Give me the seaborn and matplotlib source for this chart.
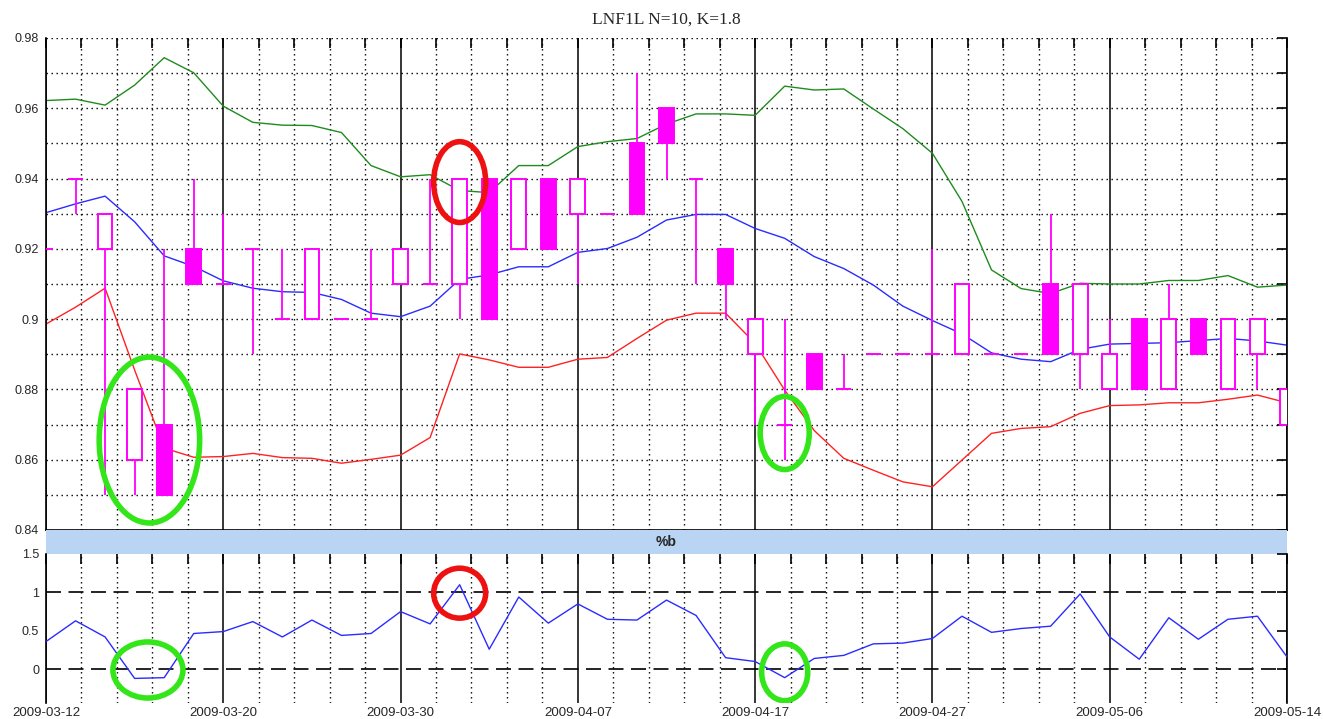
import numpy as np
import pandas as pd
import matplotlib
matplotlib.use("Agg")
import matplotlib.pyplot as plt
import seaborn as sns
from matplotlib.patches import Ellipse
from matplotlib.ticker import MultipleLocator, FixedLocator, FuncFormatter

# ---------------- data ----------------
dates = ["2009-03-12", "2009-03-13", "2009-03-16", "2009-03-17", "2009-03-18", "2009-03-19",
         "2009-03-20", "2009-03-23", "2009-03-24", "2009-03-25", "2009-03-26", "2009-03-27",
         "2009-03-30", "2009-03-31", "2009-04-01", "2009-04-02", "2009-04-03", "2009-04-06",
         "2009-04-07", "2009-04-08", "2009-04-09", "2009-04-14", "2009-04-15", "2009-04-16",
         "2009-04-17", "2009-04-20", "2009-04-21", "2009-04-22", "2009-04-23", "2009-04-24",
         "2009-04-27", "2009-04-28", "2009-04-29", "2009-04-30", "2009-05-04", "2009-05-05",
         "2009-05-06", "2009-05-07", "2009-05-08", "2009-05-11", "2009-05-12", "2009-05-13",
         "2009-05-14"]

opens = [0.92, 0.94, 0.92, 0.86, 0.87, 0.92, 0.91, 0.92, 0.90, 0.90, 0.90, 0.90, 0.91, 0.91,
         0.91, 0.94, 0.92, 0.94, 0.93, 0.93, 0.95, 0.96, 0.94, 0.92, 0.89, 0.87, 0.89, 0.88,
         0.89, 0.89, 0.89, 0.89, 0.89, 0.89, 0.91, 0.89, 0.88, 0.90, 0.88, 0.90, 0.88, 0.89,
         0.87]
highs = [0.92, 0.94, 0.93, 0.88, 0.92, 0.94, 0.93, 0.92, 0.92, 0.92, 0.90, 0.92, 0.92, 0.94,
         0.94, 0.94, 0.94, 0.94, 0.94, 0.93, 0.97, 0.96, 0.94, 0.92, 0.90, 0.90, 0.89, 0.89,
         0.89, 0.89, 0.92, 0.91, 0.89, 0.89, 0.93, 0.91, 0.90, 0.90, 0.91, 0.90, 0.90, 0.90,
         0.88]
lows = [0.92, 0.93, 0.85, 0.85, 0.85, 0.91, 0.91, 0.89, 0.90, 0.90, 0.90, 0.90, 0.91, 0.91,
        0.90, 0.90, 0.92, 0.92, 0.91, 0.93, 0.93, 0.94, 0.91, 0.90, 0.87, 0.86, 0.88, 0.88,
        0.89, 0.89, 0.89, 0.89, 0.89, 0.89, 0.89, 0.88, 0.88, 0.88, 0.88, 0.89, 0.88, 0.88,
        0.87]
closes = [0.92, 0.94, 0.93, 0.88, 0.85, 0.91, 0.91, 0.92, 0.90, 0.92, 0.90, 0.90, 0.92, 0.91,
          0.94, 0.90, 0.94, 0.92, 0.94, 0.93, 0.93, 0.95, 0.94, 0.91, 0.90, 0.87, 0.88, 0.88,
          0.89, 0.89, 0.89, 0.91, 0.89, 0.89, 0.89, 0.91, 0.89, 0.88, 0.90, 0.89, 0.90, 0.90,
          0.88]

upper = [0.9622, 0.9626, 0.9609, 0.9666, 0.9744, 0.9701, 0.9606, 0.9560, 0.9552, 0.9551,
         0.9531, 0.9437, 0.9405, 0.9411, 0.9366, 0.9360, 0.9437, 0.9437, 0.9491, 0.9505,
         0.9514, 0.9555, 0.9584, 0.9584, 0.9580, 0.9663, 0.9652, 0.9655, 0.9598, 0.9542,
         0.9472, 0.9335, 0.9140, 0.9087, 0.9073, 0.9102, 0.9100, 0.9100, 0.9110, 0.9110,
         0.9124, 0.9091, 0.9097]
middle = [0.9303, 0.9328, 0.9350, 0.9277, 0.9180, 0.9150, 0.9109, 0.9088, 0.9078, 0.9076,
          0.9056, 0.9017, 0.9007, 0.9037, 0.9113, 0.9126, 0.9149, 0.9149, 0.9190, 0.9201,
          0.9233, 0.9282, 0.9298, 0.9298, 0.9258, 0.9230, 0.9178, 0.9144, 0.9097, 0.9037,
          0.8996, 0.8958, 0.8904, 0.8886, 0.8879, 0.8914, 0.8929, 0.8931, 0.8933, 0.8939,
          0.8945, 0.8938, 0.8926]
lower = [0.8986, 0.9034, 0.9088, 0.8855, 0.8633, 0.8607, 0.8609, 0.8618, 0.8606, 0.8604,
         0.8590, 0.8601, 0.8613, 0.8663, 0.8901, 0.8884, 0.8863, 0.8863, 0.8886, 0.8891,
         0.8945, 0.8997, 0.9017, 0.9017, 0.8931, 0.8798, 0.8683, 0.8604, 0.8570, 0.8537,
         0.8523, 0.8599, 0.8675, 0.8689, 0.8694, 0.8732, 0.8754, 0.8756, 0.8762, 0.8762,
         0.8772, 0.8784, 0.8762]

pct_b = [0.36, 0.63, 0.42, -0.12, -0.11, 0.465, 0.49, 0.62, 0.42, 0.64, 0.44, 0.465, 0.75,
         0.59, 1.10, 0.26, 0.94, 0.60, 0.85, 0.65, 0.64, 0.90, 0.70, 0.15, 0.10, -0.11, 0.14,
         0.18, 0.33, 0.34, 0.40, 0.69, 0.48, 0.53, 0.56, 0.98, 0.42, 0.13, 0.67, 0.39, 0.65,
         0.69, 0.16]

tick_labels = ["2009-03-12", "2009-03-20", "2009-03-30", "2009-04-07",
               "2009-04-17", "2009-04-27", "2009-05-06", "2009-05-14"]

# annotation ellipses: (day, value, width_days, height)
main_marks = [(3.5, 0.8656, 3.4, 0.0472, "#33e619"),
              (14.0, 0.9390, 1.76, 0.0230, "#ee1111"),
              (25.0, 0.8676, 1.66, 0.0208, "#33e619")]
pb_marks = [(3.45, -0.01, 2.37, 0.73, "#33e619"),
            (14.0, 0.99, 1.76, 0.65, "#ee1111"),
            (25.0, -0.04, 1.56, 0.74, "#33e619")]

title = "LNF1L N=10, K=1.8"

# ---------------- style ----------------
sns.set_style("white")
plt.rcParams["font.family"] = ["Liberation Sans", "DejaVu Sans"]

MAG = "#ff00ff"
W, H = 1323, 719
fig = plt.figure(figsize=(W / 100, H / 100), dpi=100)


def px_axes(l, t, r, b):
    return fig.add_axes([l / W, 1 - b / H, (r - l) / W, (b - t) / H])


ax = px_axes(46, 38, 1287, 530)
axb = px_axes(46, 530, 1287, 554)
ax2 = px_axes(46, 554, 1287, 703)

x = np.arange(len(dates))
o = np.array(opens); h = np.array(highs); l = np.array(lows); c = np.array(closes)
df = pd.DataFrame({"day": x, "upper": upper, "middle": middle, "lower": lower, "pb": pct_b})

dot = (0, (1, 2.6))


def setup_grid(a):
    a.set_xlim(0, len(dates) - 1)
    a.xaxis.set_major_locator(MultipleLocator(6))
    a.xaxis.set_minor_locator(MultipleLocator(1.2))
    a.grid(which="major", axis="x", color="black", lw=1.1, ls="-", zorder=1)
    a.grid(which="minor", axis="x", color="black", lw=1.0, ls=dot, zorder=1)
    a.tick_params(which="both", direction="in", top=True, right=True, length=7,
                  width=1.2, color="black", labelsize=9)
    for s in a.spines.values():
        s.set_color("black")
        s.set_linewidth(1.2)


# ---- main panel ----
sns.lineplot(data=df, x="day", y="upper", ax=ax, color="#1e8c1e", lw=1.0, zorder=2)
sns.lineplot(data=df, x="day", y="middle", ax=ax, color="#2b2bff", lw=1.0, zorder=2)
sns.lineplot(data=df, x="day", y="lower", ax=ax, color="#ff2222", lw=1.0, zorder=2)

ax.vlines(x, l, h, color=MAG, lw=1.3, zorder=3)
lo = np.minimum(o, c); hi = np.maximum(o, c)
up = c > o + 1e-9
dn = c < o - 1e-9
dj = ~(up | dn)
ax.bar(x[up], (hi - lo)[up], bottom=lo[up], width=0.5, facecolor="white",
       edgecolor=MAG, lw=1.4, zorder=4)
ax.bar(x[dn], (hi - lo)[dn], bottom=lo[dn], width=0.5, facecolor=MAG,
       edgecolor=MAG, lw=1.4, zorder=4)
ax.hlines(c[dj], x[dj] - 0.25, x[dj] + 0.25, color=MAG, lw=1.4, zorder=4)

setup_grid(ax)
ax.set_ylim(0.84, 0.98)
ax.yaxis.set_major_locator(MultipleLocator(0.02))
ax.yaxis.set_minor_locator(MultipleLocator(0.01))
ax.grid(which="both", axis="y", color="black", lw=1.0, ls=dot, zorder=1)
ax.yaxis.set_major_formatter(FuncFormatter(lambda v, p: f"{v:.2f}".rstrip("0")))
ax.tick_params(axis="x", labelbottom=False)
ax.tick_params(axis="y", pad=5)
ax.spines["top"].set_visible(False)
ax.set_xlabel(""); ax.set_ylabel("")
ax.set_title(title, family=["Liberation Serif", "DejaVu Serif"], fontsize=12.5, pad=10)

for (d, v, w, hh, col) in main_marks:
    ax.add_patch(Ellipse((d, v), w, hh, fill=False, edgecolor=col, lw=4, zorder=10))

# ---- band ----
axb.set_facecolor("#b9d5f3")
axb.set_xticks([]); axb.set_yticks([])
for s in axb.spines.values():
    s.set_visible(False)
axb.text(0.5, 0.5, "%b", transform=axb.transAxes, ha="center", va="center",
         fontsize=10, fontweight="bold")

# ---- %b panel ----
sns.lineplot(data=df, x="day", y="pb", ax=ax2, color="#2b2bff", lw=1.0, zorder=3)
ax2.axhline(0, color="black", lw=1.2, ls=(0, (9, 4.5)), zorder=2)
ax2.axhline(1, color="black", lw=1.2, ls=(0, (9, 4.5)), zorder=2)
setup_grid(ax2)
ax2.set_ylim(-0.44, 1.5)
ax2.yaxis.set_major_locator(FixedLocator([0, 0.5, 1, 1.5]))
ax2.yaxis.set_major_formatter(FuncFormatter(lambda v, p: f"{v:g}"))
ax2.xaxis.set_major_formatter(FuncFormatter(
    lambda v, p: tick_labels[int(round(v / 6))] if 0 <= int(round(v / 6)) < len(tick_labels) else ""))
ax2.tick_params(axis="x", labelsize=9.5, pad=3)
ax2.tick_params(axis="y", pad=5)
ax2.spines["top"].set_visible(False)
ax2.spines["bottom"].set_visible(False)
ax2.set_xlabel(""); ax2.set_ylabel("")

for (d, v, w, hh, col) in pb_marks:
    ax2.add_patch(Ellipse((d, v), w, hh, fill=False, edgecolor=col, lw=4, zorder=10))

fig.savefig("out.png", dpi=100)
